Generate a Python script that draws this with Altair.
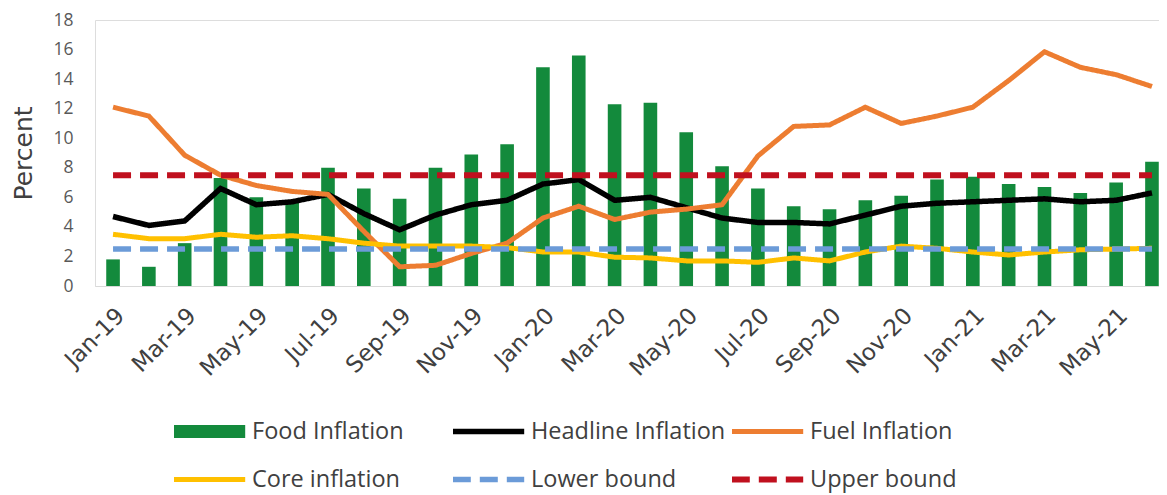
import altair as alt
import pandas as pd

months = ["Jan-19", "Feb-19", "Mar-19", "Apr-19", "May-19", "Jun-19", "Jul-19", "Aug-19",
          "Sep-19", "Oct-19", "Nov-19", "Dec-19", "Jan-20", "Feb-20", "Mar-20", "Apr-20",
          "May-20", "Jun-20", "Jul-20", "Aug-20", "Sep-20", "Oct-20", "Nov-20", "Dec-20",
          "Jan-21", "Feb-21", "Mar-21", "Apr-21", "May-21", "Jun-21"]
tick_labels = months[::2]

food = [1.8, 1.3, 2.9, 7.3, 6.0, 5.8, 8.0, 6.6, 5.9, 8.0, 8.9, 9.6, 14.8, 15.6, 12.3,
        12.4, 10.4, 8.1, 6.6, 5.4, 5.2, 5.8, 6.1, 7.2, 7.4, 6.9, 6.7, 6.3, 7.0, 8.4]
headline = [4.7, 4.1, 4.4, 6.6, 5.5, 5.7, 6.2, 4.9, 3.8, 4.8, 5.5, 5.8, 6.9, 7.2, 5.8,
            6.0, 5.3, 4.6, 4.3, 4.3, 4.2, 4.8, 5.4, 5.6, 5.7, 5.8, 5.9, 5.7, 5.8, 6.3]
fuel = [12.1, 11.5, 8.85, 7.5, 6.8, 6.4, 6.2, 3.7, 1.3, 1.4, 2.2, 2.9, 4.6, 5.4, 4.5,
        5.0, 5.2, 5.5, 8.8, 10.8, 10.9, 12.1, 11.0, 11.5, 12.1, 13.9, 15.85, 14.8, 14.3, 13.5]
core = [3.5, 3.2, 3.2, 3.5, 3.3, 3.4, 3.2, 2.9, 2.7, 2.7, 2.7, 2.6, 2.3, 2.3, 1.95,
        1.9, 1.7, 1.7, 1.6, 1.9, 1.7, 2.3, 2.7, 2.55, 2.3, 2.1, 2.3, 2.45, 2.5, 2.55]
lower = [2.5] * len(months)
upper = [7.5] * len(months)

series_names = ["Food Inflation", "Headline Inflation", "Fuel Inflation",
                "Core inflation", "Lower bound", "Upper bound"]
series_colors = ["#138a3c", "#000000", "#ed7d31", "#ffc000", "#6b9bd8", "#c0101e"]
series_dash = [[1, 0], [1, 0], [1, 0], [1, 0], [18, 9], [18, 9]]
series_width = [13, 5.5, 5, 5, 5.5, 6]

FONT = "Open Sans"
WIDE = "DejaVu Sans"
TXT = "#404040"

bars_df = pd.DataFrame({"Month": months, "Value": food})
line_sets = [("Headline Inflation", headline), ("Fuel Inflation", fuel),
             ("Core inflation", core), ("Lower bound", lower), ("Upper bound", upper)]
lines_df = pd.concat(
    [pd.DataFrame({"Month": months, "Value": v, "Series": name, "order": i})
     for i, (name, v) in enumerate(line_sets)],
    ignore_index=True,
)

xscale = alt.Scale(domain=months, paddingInner=0.62, paddingOuter=0.16, align=0.98)
x = alt.X("Month:N", scale=xscale, sort=months,
          axis=alt.Axis(title=None, values=tick_labels, labelAngle=-45, labelFontSize=23,
                        labelColor=TXT, labelFont=WIDE, labelPadding=18, ticks=False,
                        tickSize=0, domainColor="#d9d9d9", domainWidth=1))
y = alt.Y("Value:Q", scale=alt.Scale(domain=[0, 18], nice=False),
          axis=alt.Axis(title="Percent", values=list(range(0, 19, 2)), grid=False,
                        domain=False, ticks=False, tickSize=0, labelFontSize=17.5,
                        labelColor="#595959", labelFont=FONT, labelPadding=22,
                        titleFontSize=25, titleFont=WIDE, titleColor=TXT,
                        titleFontWeight="normal", titlePadding=16))

bars = alt.Chart(bars_df).mark_bar(color=series_colors[0]).encode(x=x, y=y)

legend = alt.Legend(title=None, orient="none", legendX=79, legendY=388, columns=3,
                    direction="horizontal", gridAlign="all", padding=0, clipHeight=47,
                    symbolType="M-2.1,0H2.1", symbolSize=1156, symbolOffset=12,
                    labelFontSize=23.5, labelFont=FONT, labelColor=TXT, labelOffset=19,
                    labelLimit=400, rowPadding=1, columnPadding=6, symbolOpacity=1)

lines = alt.Chart(lines_df).mark_line().encode(
    x=x, y=y,
    color=alt.Color("Series:N", scale=alt.Scale(domain=series_names, range=series_colors),
                    legend=legend),
    strokeDash=alt.StrokeDash("Series:N", scale=alt.Scale(type="ordinal", domain=series_names,
                                                           range=series_dash),
                              legend=legend),
    strokeWidth=alt.StrokeWidth("Series:N", scale=alt.Scale(type="ordinal", domain=series_names,
                                                             range=series_width),
                                legend=legend),
    order="order:Q",
    detail="Series:N",
)

chart = alt.layer(bars, lines).properties(
    width=1064, height=266,
    autosize=alt.AutoSizeParams(type="none"),
    padding={"left": 87, "top": 12, "right": 0, "bottom": 207},
).configure_view(stroke=None).configure(font=FONT)

chart.save("out.html", embed_options={"renderer": "svg", "actions": False})
